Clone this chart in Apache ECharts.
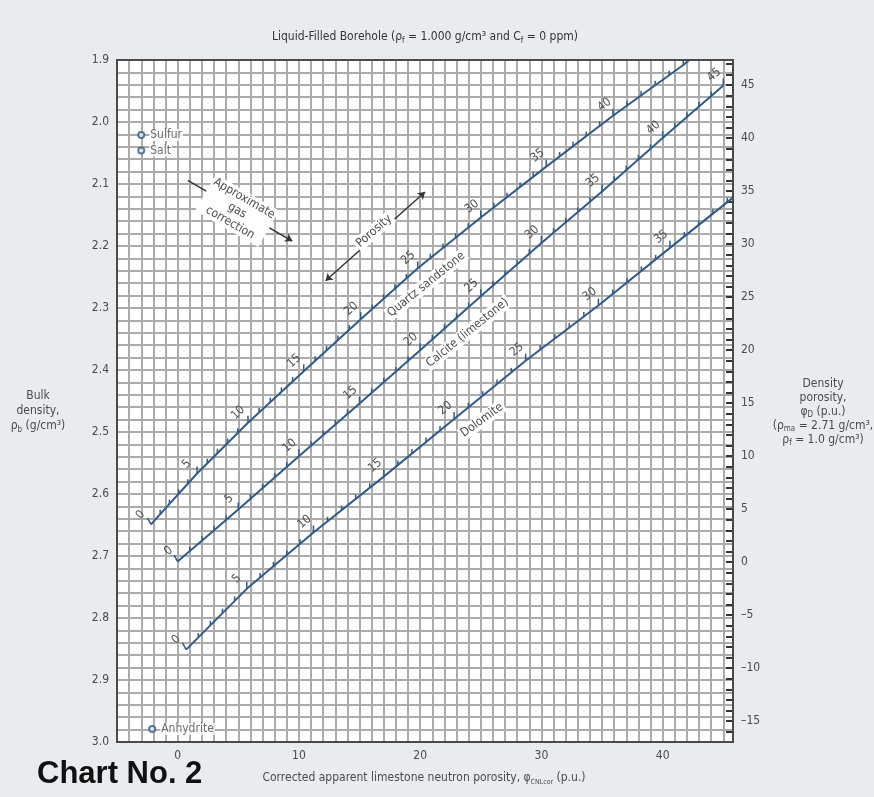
<!DOCTYPE html>
<html>
<head>
<meta charset="utf-8">
<script src="https://cdn.jsdelivr.net/npm/echarts@6/dist/echarts.min.js"></script>
<style>
html,body{margin:0;padding:0;background:#e9ecef;}
#chart{width:874px;height:797px;}
</style>
</head>
<body>
<div id="chart"></div>
<script>
// ---------------- data ----------------
const neutronTickLabels = [0, 10, 20, 30, 40];
const densityTickLabels = [1.9, 2.0, 2.1, 2.2, 2.3, 2.4, 2.5, 2.6, 2.7, 2.8, 2.9, 3.0];
const densityPorosityTickLabels = [-15, -10, -5, 0, 5, 10, 15, 20, 25, 30, 35, 40, 45];

// Quartz sandstone: true porosity, apparent limestone neutron porosity, bulk density
const sandstonePorosity = [0, 5, 10, 15, 20, 25, 30, 35, 40, 45, 45.45];
const sandstoneNeutron  = [-2.2, 1.6, 5.8, 10.4, 15.1, 19.8, 25.0, 30.4, 35.9, 41.7, 42.2];
const sandstoneDensity  = [2.649, 2.567, 2.485, 2.402, 2.318, 2.236, 2.154, 2.072, 1.990, 1.908, 1.900];

// Calcite (limestone)
const limestonePorosity = [0, 5, 10, 15, 20, 25, 30, 35, 40, 45];
const limestoneNeutron  = [0, 5, 10, 15, 20, 25, 30, 35, 40, 45];
const limestoneDensity  = [2.709, 2.625, 2.539, 2.454, 2.368, 2.281, 2.195, 2.112, 2.026, 1.941];

// Dolomite
const dolomitePorosity = [0, 5, 10, 15, 20, 25, 30, 35, 39.4];
const dolomiteNeutron  = [0.7, 5.7, 11.2, 17.0, 22.8, 28.7, 34.7, 40.6, 45.8];
const dolomiteDensity  = [2.851, 2.753, 2.662, 2.572, 2.479, 2.385, 2.296, 2.203, 2.122];

// Minerals
const mineralNames   = ['Sulfur', 'Salt', 'Anhydrite'];
const mineralNeutron = [-3.0, -3.0, -2.1];
const mineralDensity = [2.021, 2.046, 2.979];

// ---------------- styling ----------------
const FONT = "'Liberation Sans Narrow','DejaVu Sans Condensed','Liberation Sans',Roboto,sans-serif";
const LINE_COLOR = '#2e5b8a';
const TEXT_COLOR = '#4a4a4a';
const GRID_COLOR = '#ababab';

// density porosity (rho_ma 2.71, rho_f 1.0) of the left axis extent
const RHO_MIN = 1.9, RHO_MAX = 3.0;
const phiD = rho => (2.71 - rho) / (2.71 - 1.0) * 100;
const rightTicks = [];
for (let v = Math.ceil(phiD(RHO_MAX)); v <= Math.floor(phiD(RHO_MIN)); v++) rightTicks.push(v);

// ---------------- porosity scale ticks along each line ----------------
function buildScale(por, neu, den) {
  const ticks = [], labels = [];
  const last = por[por.length - 1];
  for (let k = 0; k <= Math.floor(last + 1e-9); k++) {
    let i = 0;
    while (i < por.length - 2 && por[i + 1] < k) i++;
    const t = (k - por[i]) / (por[i + 1] - por[i]);
    const x = neu[i] + t * (neu[i + 1] - neu[i]);
    const y = den[i] + t * (den[i + 1] - den[i]);
    const dx = neu[i + 1] - neu[i], dy = den[i + 1] - den[i];
    const kind = k === 0 ? 2 : (k % 5 === 0 ? 1 : 0);
    ticks.push([x, y, kind, dx, dy]);
    if (k % 5 === 0) labels.push([x, y, k, dx, dy]);
  }
  return { ticks, labels };
}
const sand = buildScale(sandstonePorosity, sandstoneNeutron, sandstoneDensity);
const lime = buildScale(limestonePorosity, limestoneNeutron, limestoneDensity);
const dolo = buildScale(dolomitePorosity, dolomiteNeutron, dolomiteDensity);
const allTicks = sand.ticks.concat(lime.ticks, dolo.ticks);
const allLabels = sand.labels.concat(lime.labels, dolo.labels);

// annotation anchors (data coordinates)
const annotations = [
  { text: 'Quartz sandstone', at: [20.5, 2.262], angle: 39 },
  { text: 'Calcite (limestone)', at: [23.9, 2.340], angle: 39 },
  { text: 'Dolomite', at: [25.1, 2.481], angle: 36 },
  { text: 'Porosity', at: [16.2, 2.176], angle: 41 },
  { text: 'Approximate\ngas\ncorrection', at: [4.9, 2.143], angle: -30 }
];
const gasArrow = [[0.84, 2.094], [9.45, 2.192]];
const porosityArrow = [[12.2, 2.256], [20.4, 2.113]];

function renderTick(params, api) {
  const p = api.coord([api.value(0), api.value(1)]);
  const kind = api.value(2);
  let x2 = p[0], y2 = p[1] - (kind === 1 ? 7 : 4.5);
  if (kind === 2) { x2 = p[0] - 3.5; y2 = p[1] - 6.5; }
  return { type: 'line', shape: { x1: p[0], y1: p[1], x2: x2, y2: y2 },
           style: { stroke: LINE_COLOR, lineWidth: 1.5 } };
}
function renderScaleLabel(params, api) {
  const x = api.value(0), y = api.value(1);
  const p = api.coord([x, y]);
  const q = api.coord([x + api.value(3), y + api.value(4)]);
  let ux = q[0] - p[0], uy = q[1] - p[1];
  const L = Math.hypot(ux, uy); ux /= L; uy /= L;
  const nx = uy, ny = -ux, d = 14;
  return { type: 'text', x: p[0] + nx * d, y: p[1] + ny * d, rotation: Math.atan2(-uy, ux),
           style: { text: String(api.value(2)), fill: '#505050', font: '12px ' + FONT,
                    align: 'center', verticalAlign: 'middle' } };
}
function renderAnnotation(params, api) {
  const a = annotations[params.dataIndex];
  const p = api.coord(a.at);
  return { type: 'text', x: p[0], y: p[1], rotation: a.angle * Math.PI / 180,
           style: { text: a.text, fill: TEXT_COLOR, font: '12px ' + FONT, align: 'center',
                    verticalAlign: 'middle', lineHeight: 14, backgroundColor: '#fff', padding: [0, 2] } };
}
function renderBorder(params) {
  const cs = params.coordSys;
  return { type: 'rect', shape: { x: cs.x, y: cs.y, width: cs.width, height: cs.height },
           style: { fill: 'none', stroke: '#4a4a4a', lineWidth: 2 } };
}

const chart = echarts.init(document.getElementById('chart'), null, { renderer: 'canvas' });
const option = {
  backgroundColor: '#e9ecef',
  animation: false,
  grid: { left: 117, right: 141, top: 60, bottom: 55, show: true, backgroundColor: '#fff', borderWidth: 0 },
  xAxis: {
    type: 'value', min: -5, max: 45.8, interval: 1,
    axisLine: { show: false }, axisTick: { show: false },
    splitLine: { show: true, lineStyle: { color: GRID_COLOR, width: 2 } },
    axisLabel: { margin: 8, color: TEXT_COLOR, fontSize: 12, fontFamily: FONT,
      formatter: v => (neutronTickLabels.indexOf(Math.round(v * 1000) / 1000) >= 0 ? String(v) : '') }
  },
  yAxis: [{
    type: 'value', inverse: true, min: RHO_MIN, max: RHO_MAX, interval: 0.02,
    axisLine: { show: false }, axisTick: { show: false },
    splitLine: { show: true, lineStyle: { color: GRID_COLOR, width: 2 } },
    axisLabel: { margin: 8, color: TEXT_COLOR, fontSize: 12, fontFamily: FONT, showMinLabel: true, showMaxLabel: true,
      formatter: v => { const r = Math.round(v * 100) / 100;
        return densityTickLabels.some(t => Math.abs(t - r) < 1e-6) ? r.toFixed(1) : ''; } }
  }, {
    type: 'value', position: 'right', min: phiD(RHO_MAX), max: phiD(RHO_MIN),
    axisLine: { show: false }, splitLine: { show: false },
    axisTick: { show: true, inside: true, length: 7, customValues: rightTicks,
                lineStyle: { color: '#333', width: 2 } },
    axisLabel: { margin: 8, color: TEXT_COLOR, fontSize: 12, fontFamily: FONT,
                 customValues: densityPorosityTickLabels,
                 formatter: v => (v < 0 ? '\u2013' + (-v) : String(v)) }
  }],
  series: [
    { type: 'line', name: 'Quartz sandstone', showSymbol: false, silent: true, z: 3,
      data: sandstoneNeutron.map((x, i) => [x, sandstoneDensity[i]]),
      lineStyle: { color: LINE_COLOR, width: 2 } },
    { type: 'line', name: 'Calcite (limestone)', showSymbol: false, silent: true, z: 3,
      data: limestoneNeutron.map((x, i) => [x, limestoneDensity[i]]),
      lineStyle: { color: LINE_COLOR, width: 2 } },
    { type: 'line', name: 'Dolomite', showSymbol: false, silent: true, z: 3,
      data: dolomiteNeutron.map((x, i) => [x, dolomiteDensity[i]]),
      lineStyle: { color: LINE_COLOR, width: 2 } },
    { type: 'custom', name: 'ticks', renderItem: renderTick, data: allTicks, clip: true, silent: true, z: 3,
      encode: { x: 0, y: 1 } },
    { type: 'custom', name: 'scaleLabels', renderItem: renderScaleLabel, data: allLabels, clip: true, silent: true, z: 4,
      encode: { x: 0, y: 1 } },
    { type: 'lines', coordinateSystem: 'cartesian2d', silent: true, z: 3,
      symbol: ['none', 'arrow'], symbolSize: 7,
      lineStyle: { color: '#333', width: 1.5, opacity: 1 },
      data: [{ coords: gasArrow }] },
    { type: 'lines', coordinateSystem: 'cartesian2d', silent: true, z: 3,
      symbol: ['arrow', 'arrow'], symbolSize: 7,
      lineStyle: { color: '#333', width: 1.5, opacity: 1 },
      data: [{ coords: porosityArrow }] },
    { type: 'custom', name: 'annotations', renderItem: renderAnnotation, silent: true, z: 5,
      data: annotations.map(a => a.at), encode: { x: 0, y: 1 } },
    { type: 'scatter', name: 'minerals', symbol: 'circle', symbolSize: 6, z: 6, silent: true,
      itemStyle: { color: '#e6edf5', borderColor: LINE_COLOR, borderWidth: 2 },
      label: { show: true, position: 'right', distance: 4, formatter: '{b}', color: TEXT_COLOR,
               fontSize: 12, fontFamily: FONT, backgroundColor: '#fff', padding: [0, 1] },
      data: mineralNames.map((n, i) => ({ name: n, value: [mineralNeutron[i], mineralDensity[i]] })) },
    { type: 'custom', name: 'border', renderItem: renderBorder, silent: true, z: 7, clip: false,
      data: [[0, 2.5]], encode: { x: 0, y: 1 } }
  ],
  graphic: [
    { type: 'text', x: 425, y: 37, silent: true,
      style: { text: '{a|Liquid-Filled Borehole (\u03c1}{s|f}{a| = 1.000 g/cm\u00b3 and C}{s|f}{a| = 0 ppm)}',
               align: 'center', verticalAlign: 'middle',
               rich: { a: { fontSize: 12, fontFamily: FONT, fill: '#333', color: '#333', lineHeight: 15 },
                       s: { fontSize: 8, fontFamily: FONT, fill: '#333', color: '#333', verticalAlign: 'bottom', lineHeight: 15 } } } },
    { type: 'text', x: 38, y: 411, silent: true,
      style: { text: '{a|Bulk}\n{a|density,}\n{a|\u03c1}{s|b}{a| (g/cm\u00b3)}', align: 'center', verticalAlign: 'middle',
               rich: { a: { fontSize: 12, fontFamily: FONT, fill: TEXT_COLOR, color: TEXT_COLOR, lineHeight: 15 },
                       s: { fontSize: 8, fontFamily: FONT, fill: TEXT_COLOR, color: TEXT_COLOR, verticalAlign: 'bottom', lineHeight: 15 } } } },
    { type: 'text', x: 823, y: 412, silent: true,
      style: { text: '{a|Density}\n{a|porosity,}\n{a|\u03c6}{s|D}{a| (p.u.)}\n{a|(\u03c1}{s|ma}{a| = 2.71 g/cm\u00b3,}\n{a|\u03c1}{s|f}{a| = 1.0 g/cm\u00b3)}',
               align: 'center', verticalAlign: 'middle',
               rich: { a: { fontSize: 12, fontFamily: FONT, fill: TEXT_COLOR, color: TEXT_COLOR, lineHeight: 14 },
                       s: { fontSize: 8, fontFamily: FONT, fill: TEXT_COLOR, color: TEXT_COLOR, verticalAlign: 'bottom', lineHeight: 14 } } } },
    { type: 'text', x: 424, y: 778, silent: true,
      style: { text: '{a|Corrected apparent limestone neutron porosity, \u03c6}{s|CNLcor}{a| (p.u.)}',
               align: 'center', verticalAlign: 'middle',
               rich: { a: { fontSize: 12, fontFamily: FONT, fill: TEXT_COLOR, color: TEXT_COLOR, lineHeight: 15 },
                       s: { fontSize: 7, fontFamily: FONT, fill: TEXT_COLOR, color: TEXT_COLOR, verticalAlign: 'bottom', lineHeight: 15 } } } },
    { type: 'text', x: 37, y: 774, silent: true,
      style: { text: 'Chart No. 2', fill: '#111', font: 'bold 31px "Liberation Sans", Arial, sans-serif',
               align: 'left', verticalAlign: 'middle' } }
  ]
};
chart.setOption(option);
</script>
</body>
</html>
